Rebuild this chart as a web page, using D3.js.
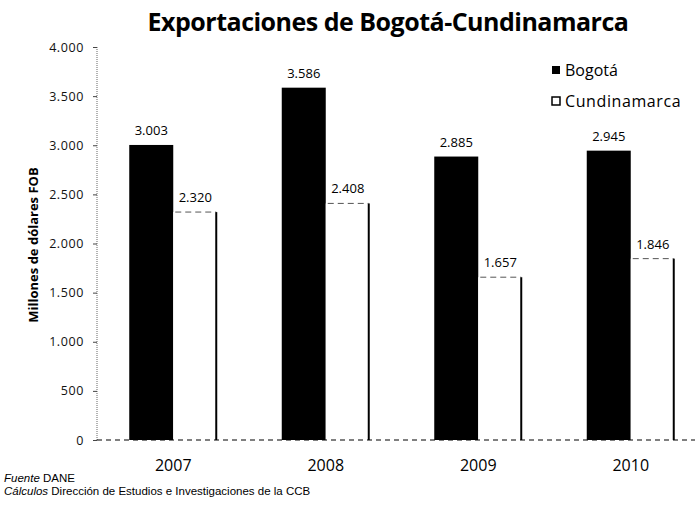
<!DOCTYPE html>
<html>
<head>
<meta charset="utf-8">
<script src="https://cdn.jsdelivr.net/npm/d3@7"></script>
<style>
  body { margin: 0; background: #fff; }
  svg { display: block; }
</style>
</head>
<body>
<svg width="695" height="508"></svg>
<script>
let years = ["2007", "2008", "2009", "2010"];
let bogota = [3003, 3586, 2885, 2945];
let cundinamarca = [2320, 2408, 1657, 1846];
let seriesNames = ["Bogotá", "Cundinamarca"];
let yTicks = [0, 500, 1000, 1500, 2000, 2500, 3000, 3500, 4000];

let svg = d3.select("svg");
let margin = {top: 47, left: 97, bottom: 68};
let height = 508 - margin.top - margin.bottom;
let width = 610;

// es-CO style numbers: 3.003
let fmt = d3.formatLocale({decimal: ",", thousands: ".", grouping: [3], currency: ["$", ""]}).format(",d");

let g = svg.append("g")
    .attr("transform", "translate(" + margin.left + "," + margin.top + ")");

let x = d3.scaleBand().domain(years).range([0, width]).paddingInner(0).paddingOuter(0);
let y = d3.scaleLinear().domain([0, 4000]).range([height, 0]);
let barW = 44;

// title
svg.append("text")
    .attr("x", 388)
    .attr("y", 31)
    .attr("text-anchor", "middle")
    .attr("font-family", "Open Sans, sans-serif")
    .attr("font-weight", "bold")
    .attr("font-size", "25px")
    .attr("letter-spacing", "-0.5px")
    .text("Exportaciones de Bogotá-Cundinamarca");

// y axis
let yAxis = g.append("g")
    .call(d3.axisLeft(y).tickValues(yTicks).tickSize(4).tickFormat(fmt));
yAxis.select(".domain").attr("stroke", "#666").attr("stroke-dasharray", "1,1").attr("d", "M0,0V" + height);
yAxis.selectAll(".tick line").attr("stroke", "#444");
yAxis.selectAll(".tick text")
    .attr("x", -13)
    .attr("font-family", "Open Sans, sans-serif")
    .attr("font-size", "12.5px")
    .attr("letter-spacing", "0.6px")
    .attr("fill", "#111");

svg.append("text")
    .attr("transform", "translate(38,245) rotate(-90)")
    .attr("text-anchor", "middle")
    .attr("font-family", "Open Sans, sans-serif")
    .attr("font-weight", "bold")
    .attr("font-size", "13px")
    .text("Millones de dólares FOB");

// bars
let groups = g.selectAll(".year")
    .data(years)
    .enter().append("g")
    .attr("transform", d => "translate(" + (x(d) + x.bandwidth() / 2) + ",0)");

groups.append("rect")
    .attr("x", -barW)
    .attr("width", barW)
    .attr("y", (d, i) => y(bogota[i]))
    .attr("height", (d, i) => height - y(bogota[i]))
    .attr("fill", "#000");

groups.append("rect")
    .attr("x", 0)
    .attr("width", barW)
    .attr("y", (d, i) => y(cundinamarca[i]))
    .attr("height", (d, i) => height - y(cundinamarca[i]))
    .attr("fill", "#fff");

groups.append("line")
    .attr("x1", barW - 1).attr("x2", barW - 1)
    .attr("y1", (d, i) => y(cundinamarca[i]))
    .attr("y2", height)
    .attr("stroke", "#000")
    .attr("stroke-width", 2);

groups.append("line")
    .attr("x1", 2).attr("x2", barW - 1)
    .attr("y1", (d, i) => y(cundinamarca[i]))
    .attr("y2", (d, i) => y(cundinamarca[i]))
    .attr("stroke", "#555")
    .attr("stroke-dasharray", "6,4");

// value labels
groups.append("text")
    .attr("x", -barW / 2)
    .attr("y", (d, i) => y(bogota[i]) - 10)
    .attr("text-anchor", "middle")
    .attr("font-family", "Open Sans, sans-serif")
    .attr("font-size", "13px")
    .text((d, i) => fmt(bogota[i]));

groups.append("text")
    .attr("x", barW / 2)
    .attr("y", (d, i) => y(cundinamarca[i]) - 10)
    .attr("text-anchor", "middle")
    .attr("font-family", "Open Sans, sans-serif")
    .attr("font-size", "13px")
    .text((d, i) => fmt(cundinamarca[i]));

// baseline
g.append("line")
    .attr("x1", 0).attr("x2", width)
    .attr("y1", height).attr("y2", height)
    .attr("stroke", "#000")
    .attr("stroke-dasharray", "5,4");

// x axis labels
groups.append("text")
    .attr("y", height + 31)
    .attr("text-anchor", "middle")
    .attr("font-family", "Open Sans, sans-serif")
    .attr("font-size", "16px")
    .text(d => d);

// legend
let legend = svg.append("g").attr("transform", "translate(552,70)");
seriesNames.forEach((name, i) => {
    let row = legend.append("g").attr("transform", "translate(0," + (i * 31) + ")");
    row.append("rect")
        .attr("x", 0).attr("y", -4)
        .attr("width", 8).attr("height", 8)
        .attr("fill", i === 0 ? "#000" : "#fff")
        .attr("stroke", "#000")
        .attr("stroke-width", i === 0 ? 0 : 1.5);
    row.append("text")
        .attr("x", 13)
        .attr("y", 0)
        .attr("dy", "0.35em")
        .attr("font-family", "Open Sans, sans-serif")
        .attr("font-size", "16px")
        .attr("letter-spacing", i === 0 ? "0px" : "0.6px")
        .text(name);
});

// source notes
let notes = svg.append("g")
    .attr("font-family", "Liberation Sans, Arial, sans-serif")
    .attr("font-size", "11.5px");
let n1 = notes.append("text").attr("x", 4).attr("y", 482);
n1.append("tspan").attr("font-style", "italic").text("Fuente");
n1.append("tspan").text(" DANE");
let n2 = notes.append("text").attr("x", 4).attr("y", 495);
n2.append("tspan").attr("font-style", "italic").text("Cálculos");
n2.append("tspan").text(" Dirección de Estudios e Investigaciones de la CCB");
</script>
</body>
</html>
